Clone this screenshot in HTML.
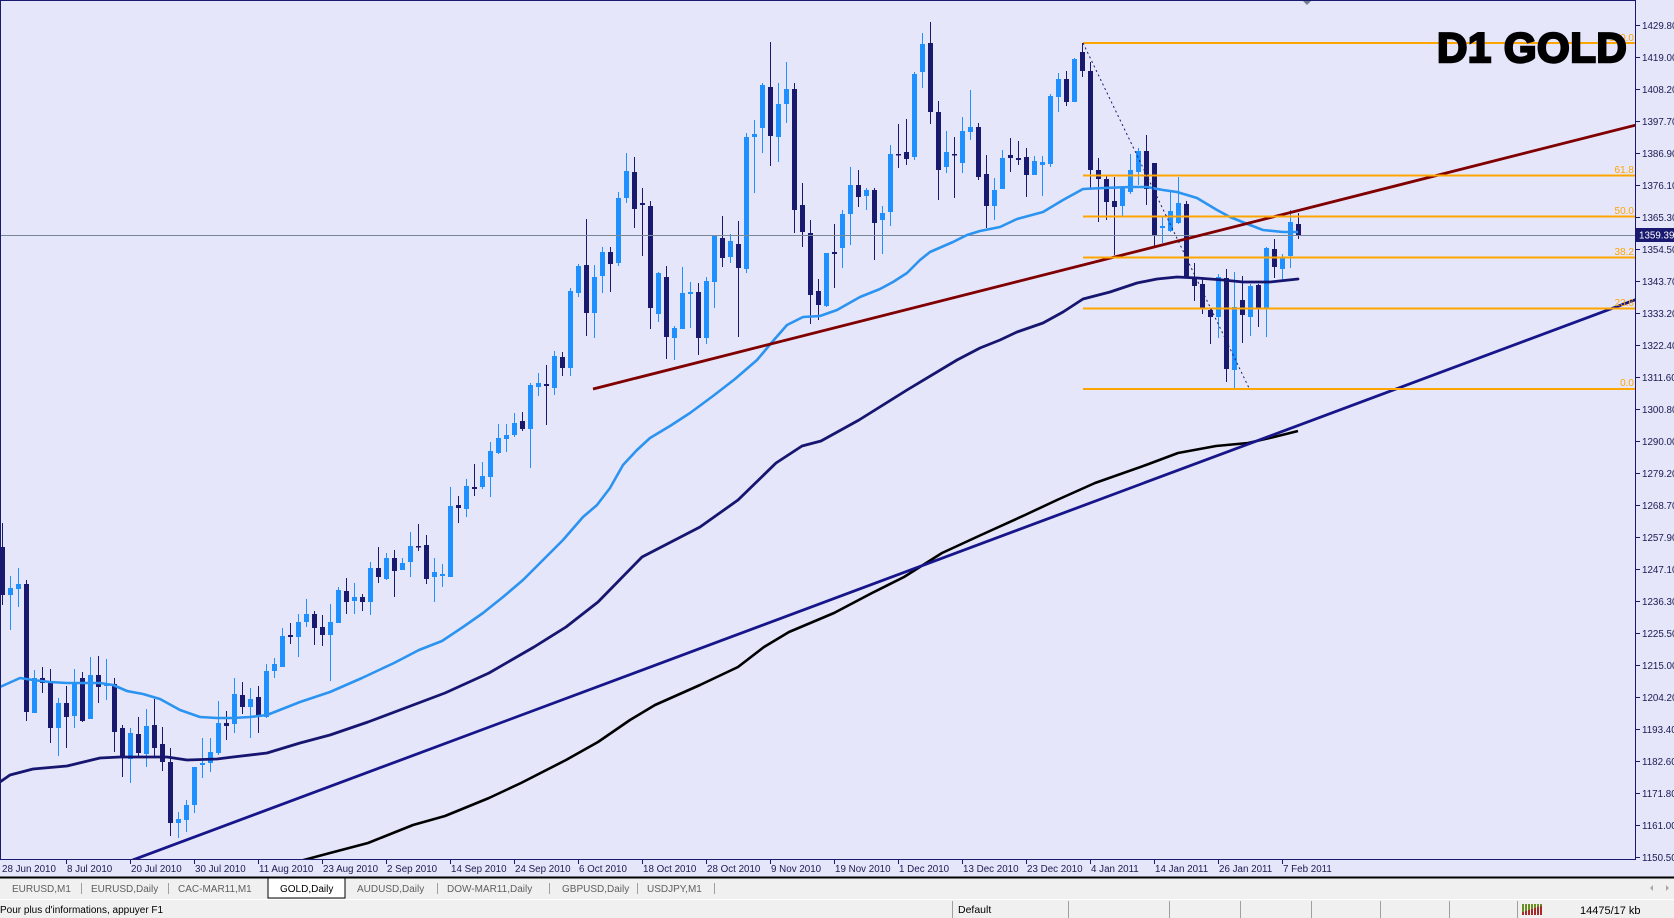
<!DOCTYPE html>
<html><head><meta charset="utf-8"><style>
html,body{margin:0;padding:0;background:#e6e6fa;}
body{width:1674px;height:918px;overflow:hidden;position:relative;font-family:"Liberation Sans",Arial,sans-serif;}
svg{display:block;position:absolute;left:0;top:0;}
</style></head><body>
<svg width="1674" height="918" viewBox="0 0 1674 918" xmlns="http://www.w3.org/2000/svg" font-family="Liberation Sans, Arial, sans-serif">
<defs><clipPath id="cp"><rect x="0" y="0" width="1635" height="859"/></clipPath></defs>
<rect x="0" y="0" width="1674" height="878" fill="#e6e6fa"/>
<g clip-path="url(#cp)">
<!-- bull wicks -->
<path fill="none" stroke="#1e90ff" stroke-width="1" d="M10.5 576V630M18.5 568V607M34.5 670V713M58.5 698V756M74.5 669V728M90.5 657V719M106.5 659V700M130.5 728V783M146.5 709V767M178.5 812V838M186.5 800V832M194.5 767V813M202.5 738V778M210.5 738V772M218.5 701V755M234.5 678V733M250.5 688V738M266.5 664V718M274.5 658V678M282.5 628V667M298.5 614V657M306.5 599V627M330.5 604V681M338.5 587V623M354.5 583V614M370.5 562V615M386.5 553V580M402.5 558V570M410.5 532V577M434.5 558V602M442.5 564V587M450.5 487V577M466.5 479V517M482.5 462V489M490.5 442V497M498.5 424V454M506.5 424V452M514.5 413V437M530.5 383V468M538.5 373V396M554.5 351V395M570.5 288V376M578.5 264V297M594.5 265V338M602.5 247V293M618.5 192V266M626.5 153V203M658.5 272V322M674.5 326V360M682.5 267V329M690.5 282V328M706.5 277V344M714.5 235V308M730.5 234V263M746.5 133V273M754.5 120V193M762.5 83V153M778.5 83V162M786.5 62V123M826.5 253V307M842.5 210V268M850.5 167V245M866.5 188V210M882.5 206V254M890.5 145V226M914.5 72V160M922.5 33V88M946.5 131V173M962.5 117V173M970.5 90V140M994.5 178V220M1002.5 150V189M1034.5 156V175M1042.5 156V196M1050.5 94V167M1058.5 73V112M1074.5 58V102M1122.5 187V217M1130.5 154V194M1138.5 148V185M1162.5 216V243M1170.5 190V232M1178.5 177V224M1218.5 274V338M1234.5 272V389M1250.5 284V336M1266.5 247V337M1282.5 254V282M1290.5 210V268"/>
<!-- bull bodies -->
<path fill="#1e90ff" d="M8 588h5v7h-5zM16 584h5v5h-5zM32 678h5v35h-5zM56 703h5v25h-5zM72 682h5v34h-5zM88 675h5v44h-5zM104 684h5v2h-5zM128 733h5v26h-5zM144 726h5v28h-5zM176 819h5v4h-5zM184 805h5v15h-5zM192 767h5v38h-5zM200 763h5v2h-5zM208 752h5v11h-5zM216 723h5v30h-5zM232 694h5v30h-5zM248 699h5v8h-5zM264 671h5v46h-5zM272 664h5v7h-5zM280 636h5v31h-5zM296 622h5v15h-5zM304 614h5v8h-5zM328 622h5v13h-5zM336 590h5v33h-5zM352 597h5v4h-5zM368 568h5v34h-5zM384 558h5v21h-5zM400 563h5v7h-5zM408 546h5v16h-5zM432 572h5v5h-5zM440 574h5v2h-5zM448 506h5v71h-5zM464 486h5v23h-5zM480 476h5v11h-5zM488 451h5v26h-5zM496 438h5v15h-5zM504 435h5v4h-5zM512 423h5v12h-5zM528 385h5v44h-5zM536 383h5v4h-5zM552 356h5v32h-5zM568 291h5v77h-5zM576 266h5v27h-5zM592 277h5v36h-5zM600 252h5v24h-5zM616 198h5v65h-5zM624 171h5v27h-5zM656 273h5v41h-5zM672 328h5v10h-5zM680 293h5v36h-5zM688 292h5v2h-5zM704 281h5v57h-5zM712 236h5v46h-5zM728 241h5v16h-5zM744 137h5v132h-5zM752 134h5v3h-5zM760 85h5v43h-5zM776 104h5v33h-5zM784 89h5v15h-5zM824 253h5v53h-5zM840 214h5v34h-5zM848 185h5v29h-5zM864 190h5v6h-5zM880 213h5v7h-5zM888 154h5v58h-5zM912 74h5v83h-5zM920 44h5v28h-5zM944 152h5v15h-5zM960 131h5v32h-5zM968 127h5v5h-5zM992 190h5v16h-5zM1000 158h5v31h-5zM1032 161h5v14h-5zM1040 162h5v3h-5zM1048 96h5v68h-5zM1056 79h5v18h-5zM1072 59h5v43h-5zM1120 187h5v19h-5zM1128 170h5v22h-5zM1136 151h5v21h-5zM1160 226h5v2h-5zM1168 211h5v20h-5zM1176 203h5v20h-5zM1216 277h5v40h-5zM1232 307h5v63h-5zM1248 286h5v31h-5zM1264 248h5v60h-5zM1280 257h5v12h-5zM1288 222h5v34h-5z"/>
<!-- bear wicks -->
<path fill="none" stroke="#191970" stroke-width="1" d="M2.5 523V605M26.5 580V721M42.5 667V693M50.5 669V743M66.5 686V748M82.5 672V722M98.5 656V703M114.5 678V752M122.5 725V777M138.5 717V756M154.5 699V757M162.5 727V771M170.5 748V836M226.5 711V740M242.5 682V714M258.5 686V733M290.5 623V644M314.5 611V645M322.5 615V646M346.5 578V614M362.5 594V611M378.5 547V583M394.5 550V597M418.5 524V551M426.5 535V584M458.5 496V523M474.5 464V496M522.5 412V431M546.5 365V425M562.5 352V376M586.5 219V336M610.5 247V292M634.5 157V228M642.5 188V256M650.5 201V329M666.5 266V359M698.5 283V355M722.5 216V267M738.5 221V337M770.5 42V166M794.5 83V233M802.5 183V247M810.5 220V324M818.5 279V320M834.5 224V288M858.5 170V207M874.5 188V260M898.5 124V168M906.5 119V165M930.5 22V124M938.5 101V200M954.5 137V198M978.5 123V180M986.5 155V228M1010.5 138V172M1018.5 141V165M1026.5 148V197M1066.5 71V106M1082.5 43V77M1090.5 62V189M1098.5 158V222M1106.5 175V220M1114.5 177V255M1146.5 135V205M1154.5 163V246M1186.5 201V278M1194.5 263V301M1202.5 277V314M1210.5 309V344M1226.5 269V382M1242.5 276V343M1258.5 284V327M1274.5 239V278M1298.5 213V239"/>
<!-- bear bodies -->
<path fill="#191970" d="M0 547h5v48h-5zM24 584h5v128h-5zM40 678h5v5h-5zM48 683h5v45h-5zM64 703h5v14h-5zM80 678h5v43h-5zM96 675h5v12h-5zM112 684h5v48h-5zM120 728h5v30h-5zM136 734h5v19h-5zM152 725h5v23h-5zM160 744h5v18h-5zM168 762h5v61h-5zM224 723h5v3h-5zM240 695h5v12h-5zM256 697h5v20h-5zM288 635h5v2h-5zM312 614h5v14h-5zM320 627h5v8h-5zM344 591h5v11h-5zM360 597h5v5h-5zM376 568h5v9h-5zM392 558h5v13h-5zM416 546h5v1.5h-5zM424 545h5v34h-5zM456 505h5v3h-5zM472 487h5v2h-5zM520 421h5v8h-5zM544 384h5v2h-5zM560 357h5v11h-5zM584 265h5v48h-5zM608 252h5v12h-5zM632 172h5v37h-5zM640 203h5v2h-5zM648 206h5v102h-5zM664 277h5v60h-5zM696 292h5v46h-5zM720 238h5v20h-5zM736 244h5v24h-5zM768 87h5v49h-5zM792 89h5v121h-5zM800 205h5v27h-5zM808 233h5v62h-5zM816 291h5v14h-5zM832 252h5v2h-5zM856 185h5v12h-5zM872 190h5v33h-5zM896 154h5v1.5h-5zM904 152h5v7h-5zM928 43h5v69h-5zM936 112h5v58h-5zM952 154h5v1.5h-5zM976 127h5v50h-5zM984 174h5v32h-5zM1008 155h5v3h-5zM1016 158h5v2h-5zM1024 157h5v18h-5zM1064 79h5v23h-5zM1080 52h5v19h-5zM1088 71h5v99h-5zM1096 170h5v9h-5zM1104 179h5v23h-5zM1112 201h5v6h-5zM1144 151h5v38h-5zM1152 163h5v72h-5zM1184 204h5v73h-5zM1192 277h5v9h-5zM1200 284h5v25h-5zM1208 310h5v7h-5zM1224 278h5v91h-5zM1240 300h5v15h-5zM1256 285h5v23h-5zM1272 249h5v18h-5zM1296 224h5v12h-5z"/>

<!-- current price line -->
<line x1="0" y1="235.5" x2="1635" y2="235.5" stroke="#778899" stroke-width="1"/>

<!-- MA1 light blue -->
<polyline fill="none" stroke="#2b93f0" stroke-width="2.6" stroke-linejoin="round" points="0,687 20,678 33,680 50,682 67,683 100,683 113,685 127,691 143,694 160,699 180,710 200,717 217,718 233,718 250,717 267,715 300,702 330,692 362,678 394,663 419,650 442,641 463,627 483,613 503,597 523,580 543,560 563,540 583,517 597,505 610,488 623,465 637,450 650,438 670,426 690,413 713,396 735,379 757,360 773,341 787,325 803,317 820,316 837,310 860,297 880,289 893,282 907,273 920,260 930,252 953,242 967,235 980,231 1000,227 1017,219 1043,212 1063,200 1083,189 1103,188 1130,187 1147,187 1163,190 1177,192 1197,198 1217,210 1230,217 1250,225 1263,230 1283,232 1298,232"/>
<!-- MA2 navy -->
<polyline fill="none" stroke="#161670" stroke-width="2.8" stroke-linejoin="round" stroke-linecap="round" points="0,782 10,775 33,769 67,766 100,758 120,757 167,757 187,760 217,759 233,757 267,753 300,743 330,735 368,722 445,693 489,673 534,647 566,627 598,602 642,557 700,527 738,500 776,463 802,446 821,441 859,420 907,390 957,360 980,348 1000,340 1017,332 1043,323 1063,312 1083,299 1110,292 1137,283 1157,279 1177,277 1197,278 1223,280 1243,282 1270,282 1298,279"/>
<!-- MA3 black -->
<polyline fill="none" stroke="#000000" stroke-width="2.6" stroke-linejoin="round" points="290,865 300,861 330,853 368,843 413,825 445,816 489,798 521,783 566,760 598,742 630,720 655,705 700,685 738,667 764,647 789,632 834,613 872,593 904,577 942,553 981,535 1025,515 1057,500 1095,483 1146,465 1178,453 1216,446 1248,443 1274,437 1298,431"/>
<!-- trendlines -->
<line x1="130" y1="861" x2="1640" y2="298" stroke="#16168a" stroke-width="2.8"/>
<line x1="593" y1="389" x2="1640" y2="124" stroke="#800000" stroke-width="2.8"/>
<!-- fib -->
<g stroke="#ffa500" stroke-width="2">
<line x1="1083" y1="43" x2="1635" y2="43"/>
<line x1="1083" y1="175.5" x2="1635" y2="175.5"/>
<line x1="1083" y1="216.5" x2="1635" y2="216.5"/>
<line x1="1083" y1="257.5" x2="1635" y2="257.5"/>
<line x1="1083" y1="308.5" x2="1635" y2="308.5"/>
<line x1="1083" y1="389" x2="1635" y2="389"/>
</g>
<line x1="1083" y1="43" x2="1249" y2="388" stroke="#191970" stroke-width="1" stroke-dasharray="2,3"/>
<g fill="#ffa500" font-size="10" text-anchor="end">
<text x="1634" y="41">100.0</text>
<text x="1634" y="173">61.8</text>
<text x="1634" y="214">50.0</text>
<text x="1634" y="255">38.2</text>
<text x="1634" y="306">23.6</text>
<text x="1634" y="386">0.0</text>
</g>
<text x="1437" y="62" font-size="42" font-weight="bold" fill="#000" stroke="#000" stroke-width="2.4" letter-spacing="0.5">D1 GOLD</text>
</g>

<!-- shift marker -->
<path d="M1302 0h10l-5 5z" fill="#708090"/>

<!-- borders -->
<line x1="0" y1="0.5" x2="1635" y2="0.5" stroke="#191970" stroke-width="1"/>
<line x1="0.5" y1="0" x2="0.5" y2="859" stroke="#191970" stroke-width="1"/>
<line x1="0" y1="859.5" x2="1636" y2="859.5" stroke="#191970" stroke-width="1"/>
<line x1="1635.5" y1="0" x2="1635.5" y2="860" stroke="#191970" stroke-width="1"/>

<!-- price axis ticks -->
<path stroke="#191970" stroke-width="1" d="M1636 25.5h4M1636 57.5h4M1636 89.5h4M1636 121.5h4M1636 153.5h4M1636 185.5h4M1636 217.5h4M1636 249.5h4M1636 281.5h4M1636 313.5h4M1636 345.5h4M1636 377.5h4M1636 409.5h4M1636 441.5h4M1636 473.5h4M1636 505.5h4M1636 537.5h4M1636 569.5h4M1636 601.5h4M1636 633.5h4M1636 665.5h4M1636 697.5h4M1636 729.5h4M1636 761.5h4M1636 793.5h4M1636 825.5h4M1636 857.5h4"/>
<g fill="#1a1a50" font-size="9.8">
<text x="1642" y="29">1429.80</text>
<text x="1642" y="61">1419.00</text>
<text x="1642" y="93">1408.20</text>
<text x="1642" y="125">1397.70</text>
<text x="1642" y="157">1386.90</text>
<text x="1642" y="189">1376.10</text>
<text x="1642" y="221">1365.30</text>
<text x="1642" y="253">1354.50</text>
<text x="1642" y="285">1343.70</text>
<text x="1642" y="317">1333.20</text>
<text x="1642" y="349">1322.40</text>
<text x="1642" y="381">1311.60</text>
<text x="1642" y="413">1300.80</text>
<text x="1642" y="445">1290.00</text>
<text x="1642" y="477">1279.20</text>
<text x="1642" y="509">1268.70</text>
<text x="1642" y="541">1257.90</text>
<text x="1642" y="573">1247.10</text>
<text x="1642" y="605">1236.30</text>
<text x="1642" y="637">1225.50</text>
<text x="1642" y="669">1215.00</text>
<text x="1642" y="701">1204.20</text>
<text x="1642" y="733">1193.40</text>
<text x="1642" y="765">1182.60</text>
<text x="1642" y="797">1171.80</text>
<text x="1642" y="829">1161.00</text>
<text x="1642" y="861">1150.50</text>
</g>
<rect x="1636" y="228" width="38" height="14" fill="#191970"/>
<text x="1639" y="238.5" font-size="9.8" fill="#ffffff">1359.39</text>

<!-- date axis ticks -->
<path stroke="#191970" stroke-width="1" d="M66.5 860v4M130.5 860v4M194.5 860v4M258.5 860v4M322.5 860v4M386.5 860v4M450.5 860v4M514.5 860v4M578.5 860v4M642.5 860v4M706.5 860v4M770.5 860v4M834.5 860v4M898.5 860v4M962.5 860v4M1026.5 860v4M1090.5 860v4M1154.5 860v4M1218.5 860v4M1282.5 860v4"/>
<g fill="#1a1a50" font-size="9.8">
<text x="2" y="872">28 Jun 2010</text>
<text x="67" y="872">8 Jul 2010</text>
<text x="131" y="872">20 Jul 2010</text>
<text x="195" y="872">30 Jul 2010</text>
<text x="259" y="872">11 Aug 2010</text>
<text x="323" y="872">23 Aug 2010</text>
<text x="387" y="872">2 Sep 2010</text>
<text x="451" y="872">14 Sep 2010</text>
<text x="515" y="872">24 Sep 2010</text>
<text x="579" y="872">6 Oct 2010</text>
<text x="643" y="872">18 Oct 2010</text>
<text x="707" y="872">28 Oct 2010</text>
<text x="771" y="872">9 Nov 2010</text>
<text x="835" y="872">19 Nov 2010</text>
<text x="899" y="872">1 Dec 2010</text>
<text x="963" y="872">13 Dec 2010</text>
<text x="1027" y="872">23 Dec 2010</text>
<text x="1091" y="872">4 Jan 2011</text>
<text x="1155" y="872">14 Jan 2011</text>
<text x="1219" y="872">26 Jan 2011</text>
<text x="1283" y="872">7 Feb 2011</text>
</g>

<!-- tab bar -->
<rect x="0" y="878" width="1674" height="21" fill="#f0f0f0"/>
<rect x="0" y="876.5" width="1674" height="2" fill="#000"/>
<rect x="268" y="878" width="77" height="20" fill="#ffffff" stroke="#000" stroke-width="1"/>
<path stroke="#a0a0a0" stroke-width="1" d="M81.5 883v11M168.5 883v11M437.5 883v11M549.5 883v11M637.5 883v11M714.5 883v11"/>
<g font-size="10" fill="#606060">
<text x="12" y="892">EURUSD,M1</text>
<text x="91" y="892">EURUSD,Daily</text>
<text x="178" y="892">CAC-MAR11,M1</text>
<text x="357" y="892">AUDUSD,Daily</text>
<text x="447" y="892">DOW-MAR11,Daily</text>
<text x="562" y="892">GBPUSD,Daily</text>
<text x="647" y="892">USDJPY,M1</text>
</g>
<text x="280" y="892" font-size="10" fill="#000">GOLD,Daily</text>
<path d="M1653 885v6l-3-3z" fill="#a8a8a8"/>
<path d="M1666 885v6l3-3z" fill="#a8a8a8"/>

<!-- status bar -->
<rect x="0" y="899" width="1674" height="19" fill="#f0f0f0"/>
<line x1="0" y1="899.5" x2="1674" y2="899.5" stroke="#ffffff" stroke-width="1"/>
<text x="0" y="913" font-size="10" fill="#000">Pour plus d'informations, appuyer F1</text>
<text x="958" y="913" font-size="10.5" fill="#000">Default</text>
<path stroke="#a0a0a0" stroke-width="1" d="M952.5 901v17M1068.5 901v17M1169.5 901v17M1240.5 901v17M1311.5 901v17M1380.5 901v17M1449.5 901v17M1517.5 901v17"/>
<g>
<rect x="1522" y="904" width="2" height="11" fill="#6b8e23"/>
<rect x="1525" y="904" width="2" height="11" fill="#6b8e23"/>
<rect x="1528" y="904" width="2" height="11" fill="#6b8e23"/>
<rect x="1531" y="904" width="2" height="11" fill="#6b8e23"/>
<rect x="1534" y="904" width="2" height="11" fill="#6b8e23"/>
<rect x="1537" y="904" width="2" height="11" fill="#6b8e23"/>
<rect x="1540" y="904" width="2" height="11" fill="#6b8e23"/>
<rect x="1522" y="912" width="2" height="3" fill="#a52a2a"/>
<rect x="1525" y="911" width="2" height="4" fill="#a52a2a"/>
<rect x="1528" y="910" width="2" height="5" fill="#a52a2a"/>
<rect x="1531" y="909" width="2" height="6" fill="#a52a2a"/>
<rect x="1534" y="908" width="2" height="7" fill="#a52a2a"/>
<rect x="1537" y="907" width="2" height="8" fill="#a52a2a"/>
<rect x="1540" y="906" width="2" height="9" fill="#a52a2a"/>
</g>
<text x="1580" y="914" font-size="11" fill="#000">14475/17 kb</text>
</svg>
</body></html>
